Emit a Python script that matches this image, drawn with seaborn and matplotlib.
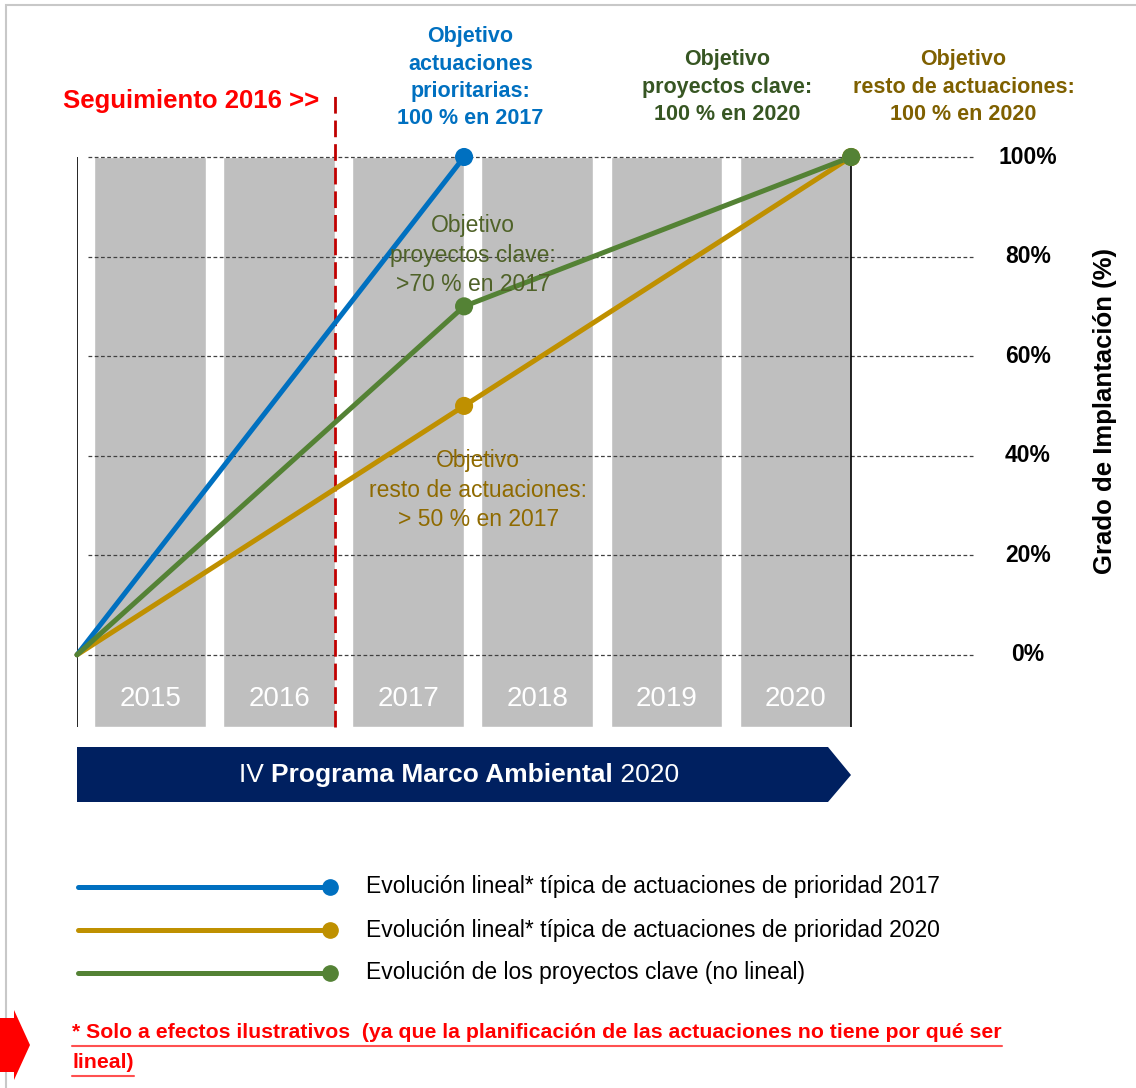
import matplotlib
matplotlib.use('Agg')
import matplotlib.pyplot as plt
from matplotlib.patches import Polygon, Rectangle
from matplotlib.lines import Line2D
import seaborn as sns
import pandas as pd

# años del programa y hitos (años transcurridos desde 2015)
years = ['2015', '2016', '2017', '2018', '2019', '2020']
hitos_2017 = [0, 3]
valores_2017 = [0, 100]
hitos_2020 = [0, 3, 6]
valores_2020 = [0, 50, 100]
hitos_clave = [0, 3, 6]
valores_clave = [0, 70, 100]
y_ticks = [0, 20, 40, 60, 80, 100]
y_tick_labels = ['0%', '20%', '40%', '60%', '80%', '100%']
seguimiento = 2

serie_2017 = 'Evolución lineal* típica de actuaciones de prioridad 2017'
serie_2020 = 'Evolución lineal* típica de actuaciones de prioridad 2020'
serie_clave = 'Evolución de los proyectos clave (no lineal)'

azul = '#0070C0'
oro = '#BF9000'
verde = '#548235'

sns.set_theme(style='white')
plt.rcParams['font.family'] = ['Liberation Sans', 'DejaVu Sans']
plt.rcParams['text.color'] = 'black'

df = pd.concat([
    pd.DataFrame({'x': hitos_2017, 'y': valores_2017, 'serie': serie_2017}),
    pd.DataFrame({'x': hitos_2020, 'y': valores_2020, 'serie': serie_2020}),
    pd.DataFrame({'x': hitos_clave, 'y': valores_clave, 'serie': serie_clave}),
], ignore_index=True)
palette = {serie_2017: azul, serie_2020: oro, serie_clave: verde}

W, H = 1136, 1088
fig = plt.figure(figsize=(W / 100, H / 100), dpi=100)
fig.patch.set_facecolor('white')

def fx(px):
    return px / W

def fy(py):
    return 1 - py / H

# marco exterior
fig.add_artist(Rectangle((fx(6), fy(H + 10)), 1.0, fy(5) - fy(H + 10), transform=fig.transFigure,
                         fill=False, edgecolor='#C8C8C8', linewidth=1.5))

ax = fig.add_axes([fx(77), fy(727), fx(975) - fx(77), fy(157) - fy(727)])
ax.set_xlim(0, 6.96)
ax.set_ylim(-14.5, 100)
ax.axis('off')

# columnas grises de los años
for i, yr in enumerate(years):
    ax.bar(i + 0.135, 114.5, width=0.865, bottom=-14.5, align='edge', color='#BFBFBF', zorder=1)
    ax.text(i + 0.5675, -8.8, yr, color='white', fontsize=20, ha='center', va='center', zorder=2)

# rejilla discontinua
for t, lab in zip(y_ticks, y_tick_labels):
    ax.plot([0.085, 6.96], [t, t], color='#404040', linestyle=(0, (3, 2)), linewidth=0.9, zorder=2,
            clip_on=False)
    ax.text(7.37, t, lab, fontsize=16.5, fontweight='bold', ha='center', va='center', clip_on=False)

ax.text(7.97, 49, 'Grado de Implantación (%)', rotation=90, fontsize=18.5, fontweight='bold',
        ha='center', va='center', clip_on=False)

# ejes verticales
ax.plot([0, 0], [-14.5, 100], color='black', linewidth=1.2, zorder=2)
ax.plot([6, 6], [-14.5, 100], color='black', linewidth=1.2, zorder=2)

# línea de seguimiento
ax.plot([seguimiento, seguimiento], [-14.5, 113], color='#C00000', linestyle=(0, (6, 2.5)),
        linewidth=2, zorder=3, clip_on=False)
ax.text(1.88, 111.2, 'Seguimiento 2016 >>', color='#FF0000', fontsize=18.5, fontweight='bold',
        ha='right', va='center', clip_on=False)

# evolución
sns.lineplot(data=df, x='x', y='y', hue='serie', palette=palette, linewidth=3.6, legend=False,
             ax=ax, zorder=4, sort=False)
sns.scatterplot(data=df[df['x'] > 0], x='x', y='y', hue='serie', palette=palette, s=170,
                edgecolor='none', legend=False, ax=ax, zorder=5)
for art in ax.lines[-3:] + ax.collections[-1:]:
    art.set_clip_on(False)

# textos de objetivos
ax.text(3.05, 115.9, 'Objetivo\nactuaciones\nprioritarias:\n100 % en 2017', color=azul, fontsize=15.5,
        fontweight='bold', ha='center', va='center', linespacing=1.4, clip_on=False)
ax.text(5.04, 114, 'Objetivo\nproyectos clave:\n100 % en 2020', color='#375623', fontsize=15.5,
        fontweight='bold', ha='center', va='center', linespacing=1.4, clip_on=False)
ax.text(6.87, 114, 'Objetivo\nresto de actuaciones:\n100 % en 2020', color='#7F6000', fontsize=15.5,
        fontweight='bold', ha='center', va='center', linespacing=1.4, clip_on=False)
ax.text(3.07, 80.3, 'Objetivo\nproyectos clave:\n>70 % en 2017', color='#4F6228', fontsize=16.5,
        ha='center', va='center', linespacing=1.35, zorder=6)
ax.text(3.11, 33.1, 'Objetivo\nresto de actuaciones:\n> 50 % en 2017', color='#8F6A00', fontsize=16.5,
        ha='center', va='center', linespacing=1.35, zorder=6)

# banda del programa
banner = [(77, 747), (828, 747), (851, 775), (828, 802), (77, 802)]
fig.add_artist(Polygon([(fx(a), fy(b)) for a, b in banner], closed=True, transform=fig.transFigure,
                       facecolor='#002060', edgecolor='none'))
fig.canvas.draw()
r = fig.canvas.get_renderer()
parts = [('IV ', 'normal'), ('Programa Marco Ambiental', 'bold'), (' 2020', 'normal')]
widths = []
for s, w in parts:
    t = fig.text(0, 0, s, fontsize=19, fontweight=w)
    widths.append(t.get_window_extent(r).width)
    t.remove()
x0 = 459 - sum(widths) / 2
for (s, w), wd in zip(parts, widths):
    fig.text(fx(x0), fy(775), s, color='white', fontsize=19, fontweight=w, ha='left', va='center')
    x0 += wd

# leyenda
for py, serie in zip([887, 930, 973], [serie_2017, serie_2020, serie_clave]):
    fig.add_artist(Line2D([fx(78), fx(330)], [fy(py), fy(py)], color=palette[serie], linewidth=3.6,
                          transform=fig.transFigure))
    fig.add_artist(Line2D([fx(330)], [fy(py)], marker='o', markersize=11, color=palette[serie],
                          transform=fig.transFigure))
    fig.text(fx(366), fy(py), serie, fontsize=16.5, ha='left', va='center')

# nota al pie
arrow = [(0, 1018), (14, 1018), (14, 1010), (30, 1045), (14, 1080), (14, 1072), (0, 1072)]
fig.add_artist(Polygon([(fx(a), fy(b)) for a, b in arrow], closed=True, transform=fig.transFigure,
                       facecolor='#FF0000', edgecolor='none'))
for py, s in [(1032, '* Solo a efectos ilustrativos  (ya que la planificación de las actuaciones no tiene por qué ser'),
              (1062, 'lineal)')]:
    t = fig.text(fx(72), fy(py), s, color='#FF0000', fontsize=15.3, fontweight='bold', ha='left', va='center')
    ext = t.get_window_extent(r)
    fig.add_artist(Line2D([fx(72), fx(72 + ext.width)], [fy(py + 14), fy(py + 14)], color='#FF5050',
                          linewidth=1.5, transform=fig.transFigure))

fig.savefig('out.png', dpi=100)
